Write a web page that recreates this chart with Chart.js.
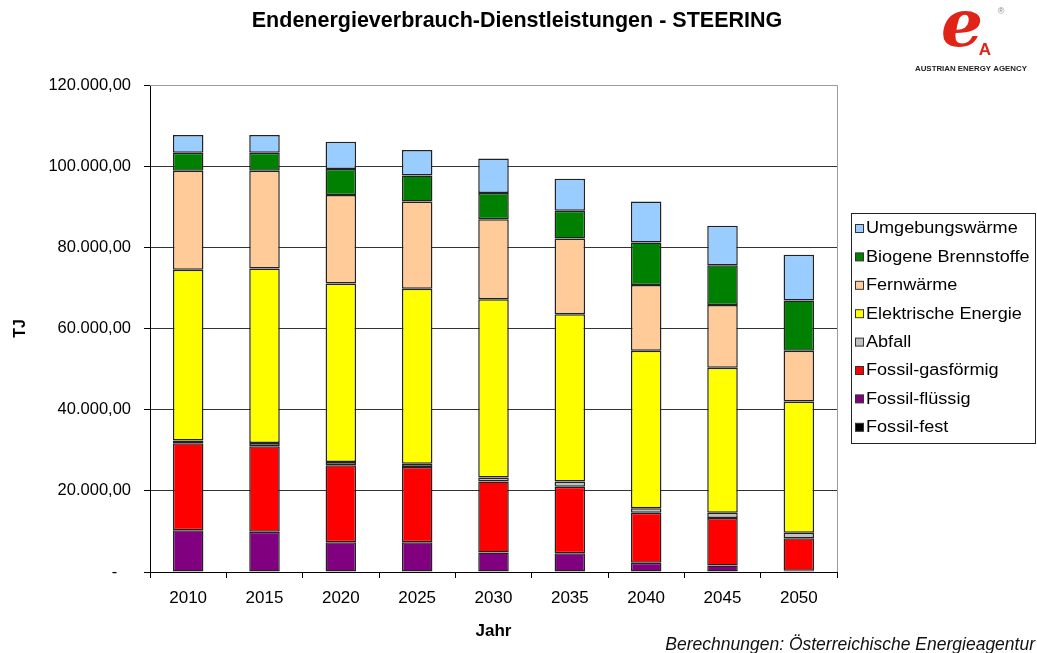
<!DOCTYPE html>
<html>
<head>
<meta charset="utf-8">
<script src="https://cdn.jsdelivr.net/npm/chart.js@4.4.1/dist/chart.umd.min.js"></script>
<style>
  html, body { margin: 0; padding: 0; background: #fff; }
  canvas { display: block; }
</style>
</head>
<body>
<canvas id="chart" width="1037" height="653"></canvas>
<script>
// Jahre und Werte in TJ
const jahre = ['2010', '2015', '2020', '2025', '2030', '2035', '2040', '2045', '2050']
const fossilFest = [0, 0, 0, 0, 0, 0, 0, 0, 0]
const fossilFluessig = [10300, 9900, 7300, 7300, 4800, 4600, 2300, 1600, 300]
const fossilGas = [21400, 21100, 19000, 18600, 17500, 16400, 12300, 11700, 8000]
const abfall = [700, 800, 800, 800, 1000, 1300, 1100, 1300, 1400]
const elektrisch = [42100, 43000, 44000, 43100, 43900, 41200, 38800, 35700, 32300]
const fernwaerme = [24400, 24100, 21800, 21500, 19700, 18700, 16200, 15500, 12500]
const biogen = [4400, 4400, 6400, 6400, 6500, 6800, 10500, 9800, 12400]
const umgebung = [4400, 4400, 6700, 6300, 8500, 7900, 10100, 9700, 11300]
const yTicks = [0, 20000, 40000, 60000, 80000, 100000, 120000]

const FONT = 'Arial, "Liberation Sans", sans-serif'

function fmt (v) {
  if (v === 0) return '-   '
  return String(v).replace(/\B(?=(\d{3})+(?!\d))/g, '.') + ',00'
}

function ds (label, data, color) {
  return {
    label: label,
    data: data,
    backgroundColor: color,
    borderColor: '#222',
    borderWidth: 1.5,
    borderSkipped: false,
    barPercentage: 0.4,
    categoryPercentage: 1
  }
}

const extras = {
  id: 'extras',
  afterDraw (chart) {
    const ctx = chart.ctx
    const area = chart.chartArea
    ctx.save()

    // Rahmen der Zeichenfläche oben/rechts
    ctx.strokeStyle = '#9a9a9a'
    ctx.lineWidth = 1
    ctx.beginPath()
    ctx.moveTo(area.left, area.top + 0.5)
    ctx.lineTo(area.right + 0.5, area.top + 0.5)
    ctx.lineTo(area.right + 0.5, area.bottom)
    ctx.stroke()

    // Titel
    ctx.fillStyle = '#000'
    ctx.font = 'bold 21.5px ' + FONT
    ctx.textAlign = 'center'
    ctx.textBaseline = 'middle'
    ctx.fillText('Endenergieverbrauch-Dienstleistungen - STEERING', 517, 21)

    // Legende
    const lx = 851, ly = 213, lw = 184, lh = 230
    ctx.strokeStyle = '#222'
    ctx.strokeRect(lx + 0.5, ly + 0.5, lw, lh)
    const items = chart.data.datasets.slice().reverse()
    ctx.textAlign = 'left'
    items.forEach((d, i) => {
      const cy = 229 + i * 28.4
      ctx.fillStyle = d.backgroundColor
      ctx.fillRect(855.5, cy - 4.5, 8, 8)
      ctx.strokeStyle = '#333'
      ctx.strokeRect(855.5, cy - 4.5, 8, 8)
      ctx.save()
      ctx.translate(866, cy)
      ctx.scale(1.13, 1)
      ctx.font = '16px ' + FONT
      ctx.fillStyle = '#000'
      ctx.fillText(d.label, 0, 0)
      ctx.restore()
    })

    // Quelle
    ctx.font = 'italic 17.5px ' + FONT
    ctx.textAlign = 'right'
    ctx.fillStyle = '#111'
    ctx.fillText('Berechnungen: Österreichische Energieagentur', 1035, 645)

    // Logo
    ctx.fillStyle = '#e02418'
    ctx.font = 'italic bold 66px "DejaVu Serif", serif'
    ctx.textAlign = 'center'
    ctx.textBaseline = 'alphabetic'
    ctx.fillText('e', 962, 46)
    ctx.font = 'bold 17px ' + FONT
    ctx.fillText('A', 985, 55)
    ctx.fillStyle = '#888'
    ctx.font = '9px ' + FONT
    ctx.fillText('®', 1001, 14)
    ctx.fillStyle = '#222'
    ctx.textBaseline = 'middle'
    ctx.font = 'bold 8px "Liberation Sans Narrow", ' + FONT
    ctx.fillText('AUSTRIAN ENERGY AGENCY', 971, 69, 112)

    ctx.restore()
  }
}

new Chart(document.getElementById('chart'), {
  type: 'bar',
  data: {
    labels: jahre,
    datasets: [
      ds('Fossil-fest', fossilFest, '#000000'),
      ds('Fossil-flüssig', fossilFluessig, '#800080'),
      ds('Fossil-gasförmig', fossilGas, '#ff0000'),
      ds('Abfall', abfall, '#c0c0c0'),
      ds('Elektrische Energie', elektrisch, '#ffff00'),
      ds('Fernwärme', fernwaerme, '#ffcc99'),
      ds('Biogene Brennstoffe', biogen, '#008000'),
      ds('Umgebungswärme', umgebung, '#99ccff')
    ]
  },
  options: {
    responsive: false,
    animation: false,
    layout: { padding: { left: 0, right: 200, top: 85, bottom: 0 } },
    plugins: {
      legend: { display: false },
      tooltip: { enabled: false }
    },
    scales: {
      x: {
        stacked: true,
        grid: { display: true, drawOnChartArea: false, tickLength: 6, color: '#000', offset: true },
        border: { color: '#000', width: 1 },
        ticks: { font: { size: 17, family: FONT }, color: '#000', padding: 10, maxRotation: 0 },
        title: { display: true, text: 'Jahr', font: { size: 17, weight: 'bold', family: FONT }, color: '#000', padding: { top: 0, bottom: 11 } },
        afterFit (scale) { scale.height = 81 }
      },
      y: {
        stacked: true,
        min: 0,
        max: 120000,
        afterBuildTicks (scale) { scale.ticks = yTicks.map(v => ({ value: v })) },
        ticks: { font: { size: 16.5, family: FONT }, color: '#000', padding: 13, callback: v => fmt(v) },
        grid: {
          color: c => (c.tick && c.tick.value === 120000) ? '#9a9a9a' : '#333',
          tickColor: '#000',
          tickLength: 6
        },
        border: { color: '#000', width: 1 },
        title: { display: true, text: 'TJ', font: { size: 16, weight: 'bold', family: FONT }, color: '#000', padding: { top: 11, bottom: 0 } },
        afterFit (scale) { scale.width = 150 }
      }
    }
  },
  plugins: [extras]
})
</script>
</body>
</html>
